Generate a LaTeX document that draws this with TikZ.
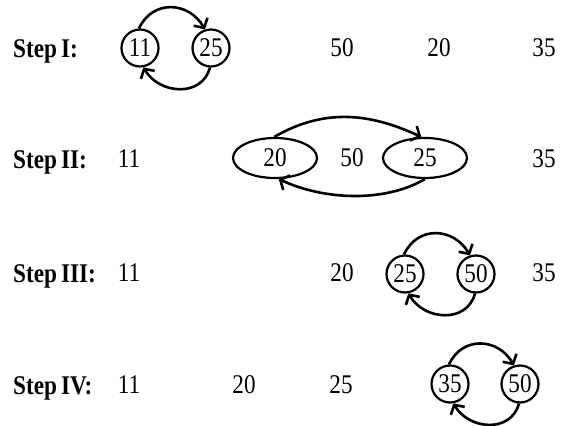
\documentclass[tikz,border=0pt]{standalone}
\usepackage{fontspec}
\setmainfont{Liberation Serif}[FakeStretch=0.86]
\usetikzlibrary{arrows.meta,shapes.geometric}
\tikzset{
  txt/.style={font=\fontsize{27}{30}\selectfont, inner sep=0pt},
  steplbl/.style={font=\fontsize{27}{30}\selectfont\bfseries, inner sep=0pt, anchor=base west},
  circ/.style={txt, draw, circle, line width=2.2pt, minimum size=37pt},
  ell/.style={txt, draw, ellipse, line width=2.2pt, minimum width=84pt, minimum height=40pt},
  arr/.style={line width=2.6pt, -{Straight Barb[length=7pt,width=16pt,line width=2.6pt]}},
}
\begin{document}
\begin{tikzpicture}[x=1pt,y=1pt]
\useasboundingbox (0,0) rectangle (566,-426);
% Row 1
\node[steplbl] (s1) at (13,-57) {Step\kern4pt I:};
\node[circ] (r1a) at (140,-48) {11};
\node[circ] (r1b) at (211,-48) {25};
\node[txt] (r1c) at (342,-48) {50};
\node[txt] (r1d) at (439,-48) {20};
\node[txt] (r1e) at (544,-48) {35};
\draw[arr] (r1a.93) to[out=65,in=120,looseness=1.25] (r1b.108);
\draw[arr] (r1b.-93) to[out=-105,in=-60,looseness=1.2] (r1a.-80);
% Row 2
\node[steplbl] (s2) at (13,-168) {Step\kern4pt II:};
\node[txt] (r2a) at (129,-159) {11};
\node[ell] (r2b) at (275,-158) {20};
\node[txt] (r2c) at (352,-158) {50};
\node[ell] (r2d) at (425,-158) {25};
\node[txt] (r2e) at (544,-159) {35};
\draw[arr] (r2b.92) to[out=30,in=155,looseness=1.0] (r2d.100);
\draw[arr] (r2d.-90) to[out=-150,in=-25,looseness=0.85] (r2b.-80);
% Row 3
\node[steplbl] (s3) at (13,-282) {Step\kern4pt III:};
\node[txt] (r3a) at (129,-273) {11};
\node[txt] (r3b) at (342,-273) {20};
\node[circ] (r3c) at (405,-274) {25};
\node[circ] (r3d) at (476,-274) {50};
\node[txt] (r3e) at (544,-273) {35};
\draw[arr] (r3c.93) to[out=65,in=120,looseness=1.25] (r3d.108);
\draw[arr] (r3d.-93) to[out=-105,in=-60,looseness=1.2] (r3c.-80);
% Row 4
\node[steplbl] (s4) at (13,-394) {Step\kern4pt IV:};
\node[txt] (r4a) at (129,-385) {11};
\node[txt] (r4b) at (244,-385) {20};
\node[txt] (r4c) at (341,-385) {25};
\node[circ] (r4d) at (450,-384) {35};
\node[circ] (r4e) at (520,-384) {50};
\draw[arr] (r4d.93) to[out=65,in=120,looseness=1.25] (r4e.108);
\draw[arr] (r4e.-93) to[out=-105,in=-60,looseness=1.2] (r4d.-80);
\end{tikzpicture}
\end{document}
